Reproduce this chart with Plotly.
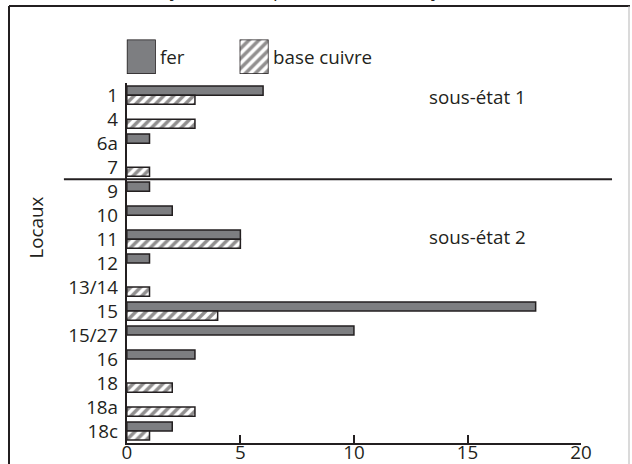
import plotly.graph_objects as go

# ---- data ----
locaux = ["1", "4", "6a", "7", "9", "10", "11", "12", "13/14", "15", "15/27", "16", "18", "18a", "18c"]
fer = [6, 0, 1, 0, 1, 2, 5, 1, 0, 18, 10, 3, 0, 0, 2]
base_cuivre = [3, 3, 0, 1, 0, 0, 5, 0, 1, 4, 0, 0, 2, 3, 1]
x_ticks = [0, 5, 10, 15, 20]
series_names = ["fer", "base cuivre"]
title_text = "Objets métalliques (nombre d'objets)"
y_title = "Locaux"
sub_labels = ["sous-état 1", "sous-état 2"]
split_after = "7"

# ---- layout geometry (target pixels, scaled to the rendering canvas) ----
S = 1.016
W, H = round(632 * S), round(464 * S)
ML, MT = 9 * S, 6 * S
MR = W - 631 * S
MB = H - 436 * S
PW, PH = W - ML - MR, H - MT - MB


def px(x):
    return (x * S - ML) / PW


def py(y):
    return (H - MB - y * S) / PH


def clamp(v):
    return min(1.0, max(0.0, v))


DARK = "#231f20"
GRAY = "#7d7e81"
FONT = "Open Sans"
FS = 18.5 * S

main_x = [clamp(px(127)), clamp(px(582))]
main_y = [clamp(py(436)), clamp(py(82))]

hatch = dict(shape="/", fgcolor=DARK, bgcolor="white", size=7, solidity=0.5)

fig = go.Figure()

fig.add_trace(go.Bar(
    y=locaux, x=[v if v else None for v in fer], orientation="h", name=series_names[0],
    marker=dict(color=GRAY, line=dict(color=DARK, width=1.5)), showlegend=False,
))
fig.add_trace(go.Bar(
    y=locaux, x=[v if v else None for v in base_cuivre], orientation="h", name=series_names[1],
    marker=dict(color="white", line=dict(color=DARK, width=1.5), pattern=hatch),
    showlegend=False,
))

# legend swatches on tiny helper axes
fig.add_trace(go.Bar(x=[1], y=[0], width=[1], orientation="h", xaxis="x2", yaxis="y2",
                     marker=dict(color=GRAY, line=dict(color=DARK, width=1.5)),
                     showlegend=False, hoverinfo="skip"))
fig.add_trace(go.Bar(x=[1], y=[0], width=[1], orientation="h", xaxis="x3", yaxis="y3",
                     marker=dict(color="white", line=dict(color=DARK, width=1.5), pattern=hatch),
                     showlegend=False, hoverinfo="skip"))

hidden = dict(visible=False, fixedrange=True)

fig.update_layout(
    width=W, height=H,
    margin=dict(l=ML, r=MR, t=MT, b=MB, pad=0),
    paper_bgcolor="white", plot_bgcolor="white",
    font=dict(family=FONT, size=FS, color=DARK),
    barmode="group", bargap=0.24, bargroupgap=0,
    xaxis=dict(domain=main_x, range=[0, 20], tickvals=x_ticks, ticks="inside", ticklen=8,
               tickwidth=2, tickcolor=DARK, showline=True, linewidth=2, linecolor=DARK,
               showgrid=False, zeroline=False, tickfont=dict(size=FS), anchor="y",
               ticklabelstandoff=-9),
    yaxis=dict(domain=main_y, type="category", categoryorder="array", categoryarray=locaux,
               range=[len(locaux) - 0.5, -0.5], showline=True, linewidth=2, linecolor=DARK,
               ticks="", showgrid=False, zeroline=False, tickfont=dict(size=FS), anchor="x",
               ticklabelstandoff=3),
    xaxis2=dict(domain=[px(127), px(156)], range=[0, 1], anchor="y2", **hidden),
    yaxis2=dict(domain=[py(73), py(39)], range=[-0.5, 0.5], anchor="x2", **hidden),
    xaxis3=dict(domain=[px(240), px(269)], range=[0, 1], anchor="y3", **hidden),
    yaxis3=dict(domain=[py(73), py(39)], range=[-0.5, 0.5], anchor="x3", **hidden),
)

split_idx = locaux.index(split_after)
split_dom = 1 - (split_idx + 1) / len(locaux)

shapes = [
    # separator between sub-states
    dict(type="line", xref="paper", yref="y domain", x0=px(64), x1=px(613),
         y0=split_dom, y1=split_dom, line=dict(color=DARK, width=2)),
    # frame
    dict(type="line", xref="paper", yref="paper", x0=px(9), x1=px(631), y0=py(6), y1=py(6),
         line=dict(color=DARK, width=2)),
    dict(type="line", xref="paper", yref="paper", x0=px(9), x1=px(9), y0=py(6), y1=py(470),
         line=dict(color=DARK, width=2)),
    dict(type="line", xref="paper", yref="paper", x0=px(630), x1=px(630), y0=py(6), y1=py(470),
         line=dict(color="#b5b5b5", width=1)),
]
fig.update_layout(shapes=shapes)

ann = [
    dict(text=title_text, x=px(307), y=py(5), xref="paper", yref="paper",
         xanchor="center", yanchor="bottom", showarrow=False, font=dict(size=FS)),
    dict(text=series_names[0], x=px(158), y=py(56), xref="paper", yref="paper",
         xanchor="left", yanchor="middle", showarrow=False),
    dict(text=series_names[1], x=px(271), y=py(56), xref="paper", yref="paper",
         xanchor="left", yanchor="middle", showarrow=False),
    dict(text=sub_labels[0], x=px(478), y=py(96), xref="paper", yref="paper",
         xanchor="center", yanchor="middle", showarrow=False),
    dict(text=sub_labels[1], x=px(478), y=py(233), xref="paper", yref="paper",
         xanchor="center", yanchor="middle", showarrow=False),
    dict(text=y_title, x=px(36), y=py(224), xref="paper", yref="paper", textangle=-90,
         xanchor="center", yanchor="middle", showarrow=False),
]
fig.update_layout(annotations=ann)

page_fix = (
    "document.documentElement.style.margin='0';"
    "document.documentElement.style.overflow='hidden';"
    "document.body.style.margin='0';"
    "document.body.style.overflow='hidden';"
)
fig.write_html("out.html", config={"displayModeBar": False}, post_script=page_fix)
